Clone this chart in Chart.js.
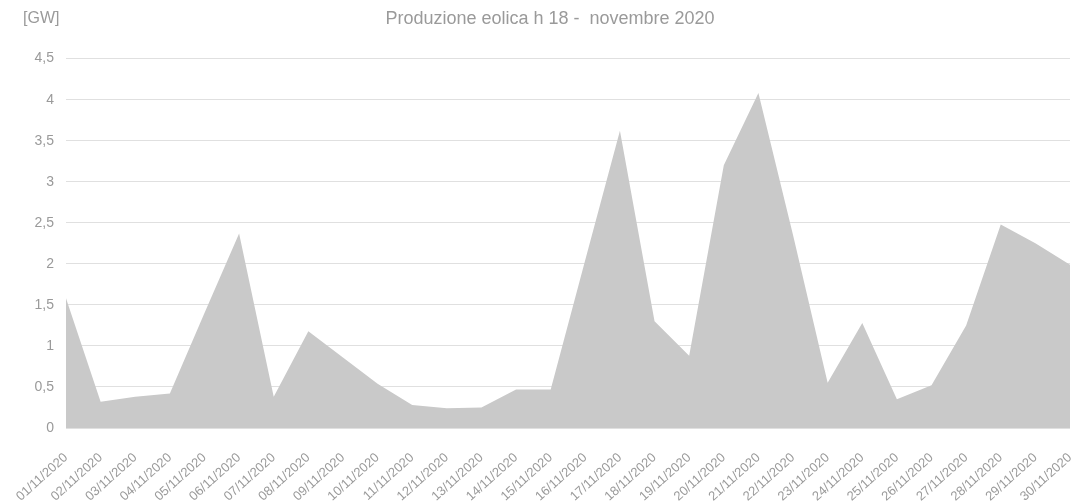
<!DOCTYPE html>
<html>
<head>
<meta charset="utf-8">
<script src="https://cdn.jsdelivr.net/npm/chart.js@4"></script>
<style>
  html, body { margin: 0; padding: 0; background: #fff; }
  #wrap { width: 1074px; height: 504px; }
</style>
</head>
<body>
<div id="wrap"><canvas id="windChart"></canvas></div>
<script>
// giorni di novembre 2020
const days = ['01/11/2020', '02/11/2020', '03/11/2020', '04/11/2020', '05/11/2020', '06/11/2020',
    '07/11/2020', '08/11/2020', '09/11/2020', '10/11/2020', '11/11/2020', '12/11/2020',
    '13/11/2020', '14/11/2020', '15/11/2020', '16/11/2020', '17/11/2020', '18/11/2020',
    '19/11/2020', '20/11/2020', '21/11/2020', '22/11/2020', '23/11/2020', '24/11/2020',
    '25/11/2020', '26/11/2020', '27/11/2020', '28/11/2020', '29/11/2020', '30/11/2020'];

// produzione eolica alle 18 [GW]
const windGW = [1.58, 0.32, 0.38, 0.42, 1.40, 2.37, 0.38, 1.18, 0.86, 0.54,
    0.28, 0.24, 0.25, 0.47, 0.47, 2.05, 3.62, 1.30, 0.88, 3.20,
    4.08, 2.35, 0.55, 1.28, 0.35, 0.52, 1.25, 2.48, 2.25, 1.99];

const yMin = 0;
const yMax = 4.5;
const yStep = 0.5;

const textGrey = '#9a9a9a';
const fontFam = '"Liberation Sans", Arial, sans-serif';

// etichetta "[GW]" sopra l'asse y
const unitLabel = {
    id: 'unitLabel',
    afterDraw(chart) {
        const ctx = chart.ctx;
        ctx.save();
        ctx.font = '16px ' + fontFam;
        ctx.fillStyle = textGrey;
        ctx.textAlign = 'left';
        ctx.textBaseline = 'middle';
        ctx.fillText('[GW]', 23, 19);
        ctx.restore();
    }
};

const ctx = document.getElementById('windChart').getContext('2d');
new Chart(ctx, {
    type: 'line',
    data: {
        labels: days,
        datasets: [{
            label: 'Produzione eolica',
            data: windGW,
            fill: 'origin',
            backgroundColor: '#c9c9c9',
            borderColor: '#c9c9c9',
            borderWidth: 0,
            pointRadius: 0,
            tension: 0
        }]
    },
    options: {
        responsive: true,
        maintainAspectRatio: false,
        animation: false,
        layout: { padding: { left: 30, right: 4, top: 0, bottom: 0 } },
        plugins: {
            legend: { display: false },
            tooltip: { enabled: false },
            title: {
                display: true,
                text: 'Produzione eolica h 18 -  novembre 2020',
                color: textGrey,
                font: { family: fontFam, size: 18, weight: 'normal' },
                padding: { top: 8, bottom: 29 }
            }
        },
        scales: {
            x: {
                offset: false,
                grid: { display: false, drawTicks: false },
                border: { display: false },
                ticks: {
                    autoSkip: false,
                    minRotation: 42,
                    maxRotation: 42,
                    padding: 22,
                    color: textGrey,
                    font: { family: fontFam, size: 13 }
                },
                afterFit(scale) {
                    scale.height = 76;
                    scale.paddingLeft = 0;
                    scale.paddingRight = 0;
                }
            },
            y: {
                min: yMin,
                max: yMax,
                z: 1,
                grid: { color: 'rgba(0,0,0,0.12)', drawTicks: false },
                border: { display: false },
                ticks: {
                    stepSize: yStep,
                    padding: 12,
                    color: textGrey,
                    font: { family: fontFam, size: 14 },
                    callback: v => String(v).replace('.', ',')
                },
                afterFit(scale) { scale.width = 36; }
            }
        }
    },
    plugins: [unitLabel]
});
</script>
</body>
</html>
